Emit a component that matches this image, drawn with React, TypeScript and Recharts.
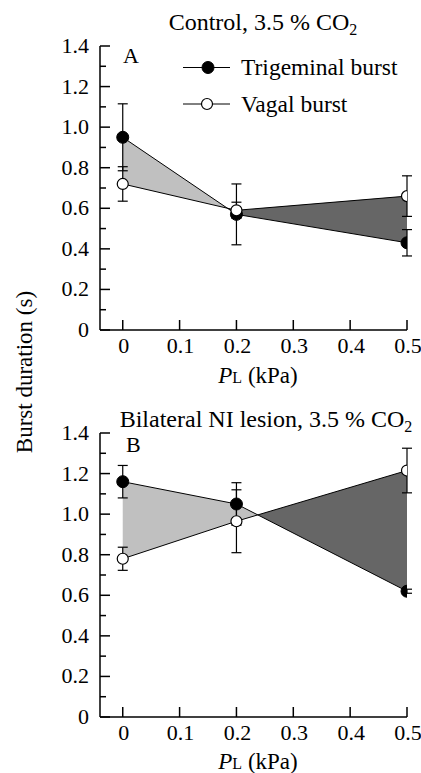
import { ComposedChart, Line, Area, XAxis, YAxis, ErrorBar, Legend } from "recharts";

const FONT = "'Liberation Serif', 'Times New Roman', serif";

// lung inflation pressure (kPa)
const pressureKPa = [0, 0.2, 0.5];

// Panel A: control, 3.5 % CO2
const controlTrigeminal = [0.95, 0.57, 0.43];
const controlTrigeminalErr = [0.165, 0.15, 0.065];
const controlVagal = [0.72, 0.59, 0.66];
const controlVagalErr = [0.085, 0.04, 0.1];

// Panel B: bilateral NI lesion, 3.5 % CO2
const lesionTrigeminal = [1.16, 1.05, 0.62];
const lesionTrigeminalErr = [0.08, 0.105, 0.01];
const lesionVagal = [0.78, 0.965, 1.215];
const lesionVagalErr = [0.057, 0.155, 0.11];

const xTicks = [0, 0.1, 0.2, 0.3, 0.4, 0.5];
const yTicks = [0, 0.1, 0.2, 0.3, 0.4, 0.5, 0.6, 0.7, 0.8, 0.9, 1.0, 1.1, 1.2, 1.3, 1.4];

const LIGHT = "#c0c0c0";
const DARK = "#666666";

function buildRows(trig: number[], trigErr: number[], vagal: number[], vagalErr: number[]) {
  return pressureKPa.map((p, i) => ({
    p,
    trig: trig[i],
    trigErr: trigErr[i],
    vagal: vagal[i],
    vagalErr: vagalErr[i],
    band: [vagal[i], trig[i]],
  }));
}

// where the two lines cross, as a fraction of the x span (for the fill gradient)
function crossingOffset(trig: number[], vagal: number[]) {
  const n = pressureKPa.length;
  for (let i = 0; i < n - 1; i++) {
    const d0 = trig[i] - vagal[i];
    const d1 = trig[i + 1] - vagal[i + 1];
    if ((d0 > 0 && d1 <= 0) || (d0 < 0 && d1 >= 0)) {
      const xc = pressureKPa[i] + ((pressureKPa[i + 1] - pressureKPa[i]) * d0) / (d0 - d1);
      return (xc - pressureKPa[0]) / (pressureKPa[n - 1] - pressureKPa[0]);
    }
  }
  return 1;
}

const YTick = (props: any) => {
  const { x, y, payload } = props;
  const v = payload.value;
  const major = Math.round(v * 10) % 2 === 0;
  return (
    <g>
      <line x1={x} y1={y} x2={x + (major ? 10 : 6)} y2={y} stroke="#000" strokeWidth={1.5} />
      {major && (
        <text x={x - 11} y={y + 7} textAnchor="end" fontSize={22} fontFamily={FONT} fill="#000">
          {v === 0 ? "0" : v.toFixed(1)}
        </text>
      )}
    </g>
  );
};

const XTick = (props: any) => {
  const { x, y, payload } = props;
  const v = payload.value;
  return (
    <g>
      <line x1={x} y1={y} x2={x} y2={y - 10} stroke="#000" strokeWidth={1.5} />
      <text x={x + 1} y={y + 23} textAnchor="middle" fontSize={22} fontFamily={FONT} fill="#000">
        {v === 0 ? "0" : v.toFixed(1)}
      </text>
    </g>
  );
};

const renderLegend = () => (
  <svg width={230} height={70} style={{ display: "block" }}>
    <line x1={0} y1={17.5} x2={47} y2={17.5} stroke="#000" strokeWidth={1} />
    <circle cx={25} cy={17.5} r={6} fill="#000" stroke="#000" />
    <text x={58} y={25} fontSize={23.5} fontFamily={FONT} fill="#000">
      Trigeminal burst
    </text>
    <line x1={0} y1={54} x2={47} y2={54} stroke="#000" strokeWidth={1} />
    <circle cx={24} cy={54} r={5.5} fill="#fff" stroke="#000" strokeWidth={1.2} />
    <text x={58} y={62} fontSize={23.5} fontFamily={FONT} fill="#000">
      Vagal burst
    </text>
  </svg>
);

interface PanelProps {
  trig: number[];
  trigErr: number[];
  vagal: number[];
  vagalErr: number[];
  gradId: string;
  showLegend?: boolean;
}

function Panel({ trig, trigErr, vagal, vagalErr, gradId, showLegend }: PanelProps) {
  const rows = buildRows(trig, trigErr, vagal, vagalErr);
  const off = crossingOffset(trig, vagal);
  const first = trig[0] > vagal[0] ? LIGHT : DARK;
  const second = first === LIGHT ? DARK : LIGHT;
  return (
    <ComposedChart width={421} height={386} data={rows} margin={{ top: 46, right: 14, bottom: 26, left: 40 }}>
      <defs>
        <linearGradient id={gradId} x1="0" y1="0" x2="1" y2="0">
          <stop offset={0} stopColor={first} />
          <stop offset={off} stopColor={first} />
          <stop offset={off} stopColor={second} />
          <stop offset={1} stopColor={second} />
        </linearGradient>
      </defs>
      <XAxis
        type="number"
        dataKey="p"
        domain={[-0.04, 0.5]}
        allowDataOverflow
        ticks={xTicks}
        interval={0}
        height={30}
        tickSize={0}
        tickMargin={0}
        tickLine={false}
        tick={<XTick />}
        axisLine={{ stroke: "#000", strokeWidth: 1.5 }}
      />
      <YAxis
        type="number"
        domain={[0, 1.4]}
        allowDataOverflow
        ticks={yTicks}
        interval={0}
        width={60}
        tickSize={0}
        tickMargin={0}
        tickLine={false}
        tick={<YTick />}
        axisLine={{ stroke: "#000", strokeWidth: 1.5 }}
      />
      <Area
        dataKey="band"
        type="linear"
        stroke="none"
        fill={`url(#${gradId})`}
        fillOpacity={1}
        activeDot={false}
        isAnimationActive={false}
      />
      <Line
        dataKey="trig"
        type="linear"
        stroke="#000"
        strokeWidth={1}
        dot={{ r: 6, fill: "#000", stroke: "#000", strokeWidth: 1 }}
        activeDot={false}
        isAnimationActive={false}
      >
        <ErrorBar dataKey="trigErr" direction="y" width={5} stroke="#000" strokeWidth={1.2} isAnimationActive={false} />
      </Line>
      <Line
        dataKey="vagal"
        type="linear"
        stroke="#000"
        strokeWidth={1}
        dot={{ r: 5.5, fill: "#fff", stroke: "#000", strokeWidth: 1.2 }}
        activeDot={false}
        isAnimationActive={false}
      >
        <ErrorBar dataKey="vagalErr" direction="y" width={5} stroke="#000" strokeWidth={1.2} isAnimationActive={false} />
      </Line>
      {showLegend && (
        <Legend
          layout="vertical"
          align="center"
          verticalAlign="middle"
          content={renderLegend}
          wrapperStyle={{ position: "absolute", left: 183, top: 50, width: 230, height: 70 }}
        />
      )}
    </ComposedChart>
  );
}

const AxisTitle = ({ x, y }: { x: number; y: number }) => (
  <text x={x} y={y} textAnchor="middle" fontSize={23} fontFamily={FONT} fill="#000">
    <tspan fontStyle="italic">P</tspan>
    <tspan fontSize={16}>L</tspan>
    <tspan> (kPa)</tspan>
  </text>
);

export default function App() {
  return (
    <div style={{ position: "absolute", left: 0, top: 0, width: 421, height: 773, background: "#fff", fontFamily: FONT }}>
      <div style={{ position: "absolute", left: 0, top: 0 }}>
        <Panel
          trig={controlTrigeminal}
          trigErr={controlTrigeminalErr}
          vagal={controlVagal}
          vagalErr={controlVagalErr}
          gradId="fillA"
          showLegend
        />
      </div>
      <div style={{ position: "absolute", left: 0, top: 387 }}>
        <Panel
          trig={lesionTrigeminal}
          trigErr={lesionTrigeminalErr}
          vagal={lesionVagal}
          vagalErr={lesionVagalErr}
          gradId="fillB"
        />
      </div>
      <svg width={421} height={773} style={{ position: "absolute", left: 0, top: 0, pointerEvents: "none" }}>
        <text x={263} y={30} textAnchor="middle" fontSize={24} fontFamily={FONT} fill="#000">
          Control, 3.5 % CO<tspan fontSize={16} dy={5}>2</tspan>
        </text>
        <text x={123} y={63} fontSize={22} fontFamily={FONT} fill="#000">A</text>
        <AxisTitle x={258} y={383} />
        <text x={266} y={427} textAnchor="middle" fontSize={24} fontFamily={FONT} fill="#000">
          Bilateral NI lesion, 3.5 % CO<tspan fontSize={16} dy={5}>2</tspan>
        </text>
        <text x={126} y={452} fontSize={22} fontFamily={FONT} fill="#000">B</text>
        <AxisTitle x={258} y={769} />
        <text
          x={24}
          y={372}
          textAnchor="middle"
          fontSize={23}
          fontFamily={FONT}
          fill="#000"
          transform="rotate(-90 24 372)"
          dy={8}
        >
          Burst duration (s)
        </text>
      </svg>
    </div>
  );
}
